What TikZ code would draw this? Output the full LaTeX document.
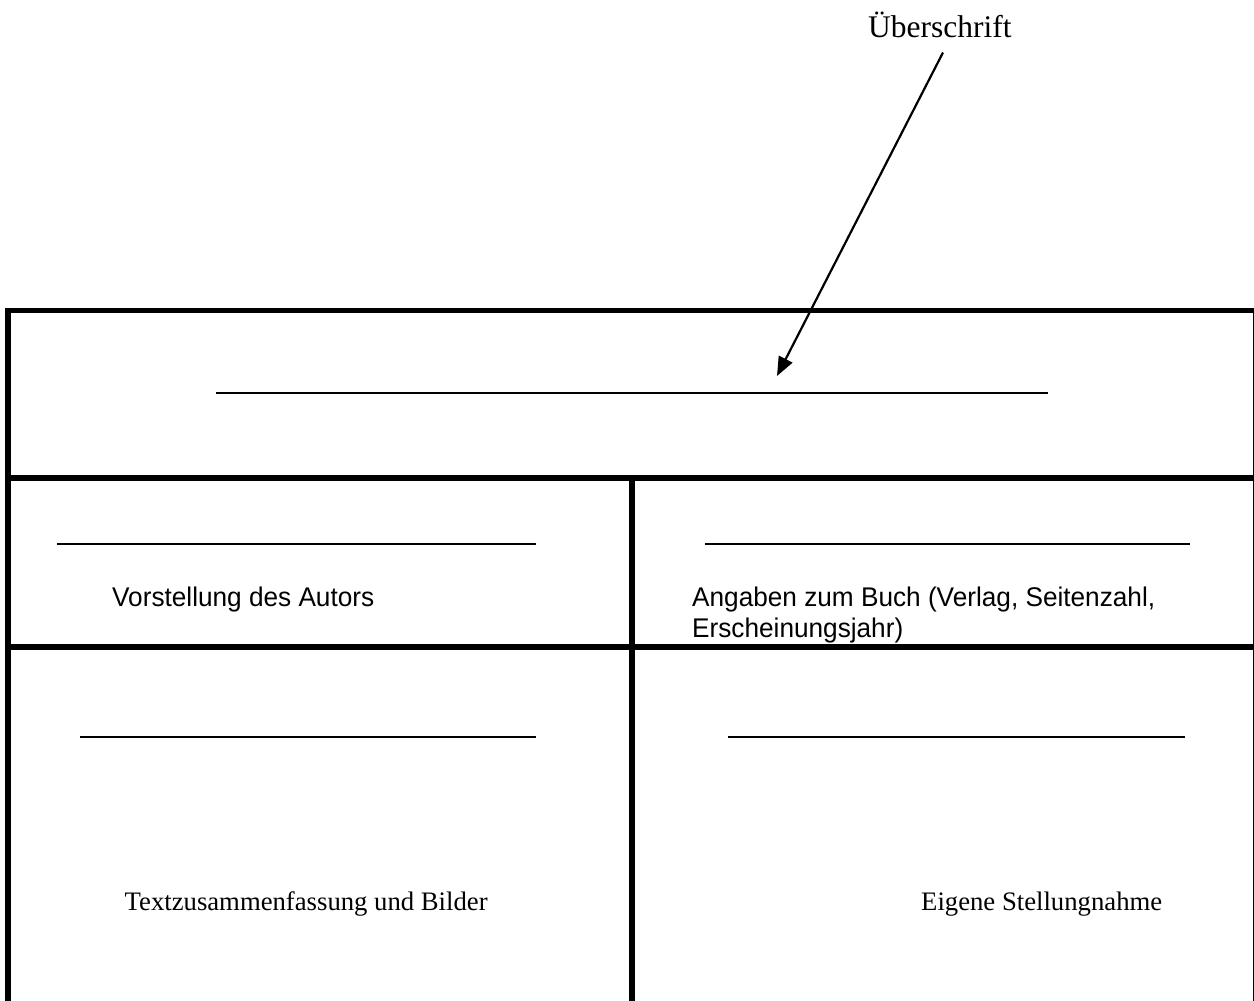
\documentclass[tikz,border=0pt]{standalone}
\usepackage{fontspec}
\setmainfont{Liberation Serif}
\newfontfamily\tah[FakeStretch=0.97]{Liberation Sans}
\usetikzlibrary{arrows.meta}
\begin{document}
\begin{tikzpicture}[x=1pt,y=-1pt,
  frameline/.style={line width=5.5pt,line cap=rect},
  blankline/.style={line width=1.8pt},
  serif/.style={inner sep=0pt,anchor=base west,font=\fontsize{26.7}{31}\selectfont},
  sans/.style={inner sep=0pt,anchor=base west,font=\tah\fontsize{27}{32}\selectfont},
  pointer/.style={line width=2.2pt,-{Triangle[length=19pt,width=15pt]}}]
\useasboundingbox (0,0) rectangle (1254,1001);
% frame
\draw[frameline] (7.8,1010) -- (7.8,310.5) -- (1256,310.5) -- (1256,1010);
\draw[frameline] (7.8,478) -- (1256,478);
\draw[frameline] (7.8,647) -- (1256,647);
\draw[frameline] (632,478) -- (632,1010);
% blank lines
\draw[blankline] (216,393) -- (1048,393);
\draw[blankline] (57,544) -- (536,544);
\draw[blankline] (705,544) -- (1190,544);
\draw[blankline] (80,737) -- (536,737);
\draw[blankline] (728,737) -- (1185,737);
% texts
\node[serif,font=\fontsize{31.5}{36}\selectfont] (title) at (868,37) {Überschrift};
\coordinate (tip) at (777,376);
\draw[pointer] (title.south -| 943,0) ++(0,15) -- (tip);
\node[sans] (autor) at (112,606) {Vorstellung des Autors};
\node[sans] (buch) at (692,606) {Angaben zum Buch (Verlag, Seitenzahl,};
\node[sans] (buchb) at (692,637.5) {Erscheinungsjahr)};
\node[serif] (text) at (124.5,910) {Textzusammenfassung und Bilder};
\node[serif] (meinung) at (921,910) {Eigene Stellungnahme};
\end{tikzpicture}
\end{document}
